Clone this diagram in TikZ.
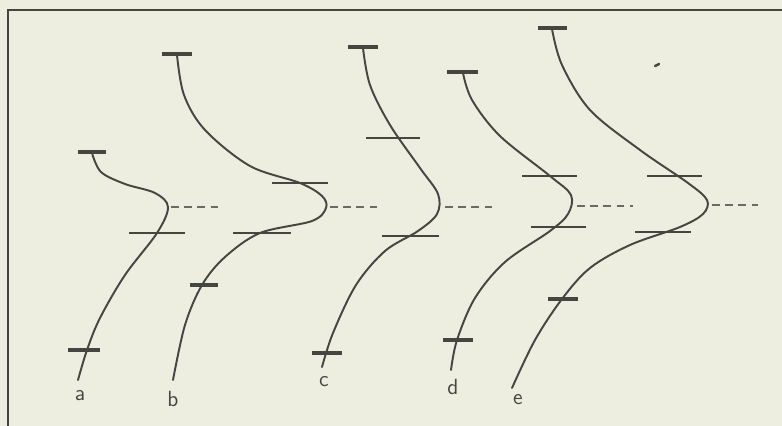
\documentclass[tikz,border=0pt]{standalone}
\usepackage{tikz}
\definecolor{paper}{HTML}{EDEEE0}
\definecolor{ink}{HTML}{45463F}

\begin{document}
\begin{tikzpicture}[x=0.02cm, y=-0.02cm, font=\sffamily\fontsize{12.5}{14}\selectfont,
    curve/.style={ink, line width=1.1pt, line cap=round},
    bold tick/.style={ink, line width=1.8pt},
    thin tick/.style={ink, line width=0.9pt},
    level/.style={ink!80, line width=0.8pt, dash pattern=on 4.5pt off 3pt},
    lab/.style={ink, inner sep=0pt}]
  \fill[paper] (0,0) rectangle (782,426);
  \useasboundingbox (0,0) rectangle (782,426);
  % Rahmen (nur links und oben sichtbar)
  \draw[ink, line width=1.1pt] (8,426) -- (8,10) -- (782,10);

  % Kurven a bis e
  \draw[curve] plot[smooth, tension=0.55] coordinates {(92,153) (101,172) (125,184)
    (155,193) (168,207) (157,233) (125,275) (100,318) (87,350) (78,380)};
  \draw[curve] plot[smooth, tension=0.55] coordinates {(177,55) (184,95) (205,130)
    (250,166) (300,183) (322,196) (326,208) (312,221) (260,233) (225,257) (202,285)
    (185,325) (173,380)};
  \draw[curve] plot[smooth, tension=0.55] coordinates {(363,48) (370,85) (390,125)
    (420,168) (438,194) (437,214) (418,231) (385,251) (356,285) (333,333) (322,367)};
  \draw[curve] plot[smooth, tension=0.55] coordinates {(463,73) (472,100) (500,136)
    (550,176) (571,195) (568,214) (550,231) (505,262) (475,298) (457,340) (451,370)};
  \draw[curve] plot[smooth, tension=0.55] coordinates {(552,29) (562,65) (590,110)
    (640,150) (688,183) (707,200) (703,214) (680,227) (630,245) (590,268) (562,299)
    (535,340) (512,388)};

  % Markierungen
  \foreach \xa/\xb/\y in {78/106/152, 68/100/350, 162/192/54, 190/218/285, 348/378/47,
      312/342/353, 447/478/72, 443/473/340, 538/567/28, 548/578/299} {
    \draw[bold tick] (\xa,\y) -- (\xb,\y);
  }
  \foreach \xa/\xb/\y in {129/185/233, 272/328/183, 233/291/233, 366/420/138, 382/439/236,
      522/577/176, 531/586/227, 647/702/176, 635/691/232} {
    \draw[thin tick] (\xa,\y) -- (\xb,\y);
  }
  \foreach \xa/\xb/\y in {171/219/207, 330/377/207, 445/492/207, 577/633/206, 712/758/205} {
    \draw[level] (\xa,\y) -- (\xb,\y);
  }

  % Beschriftung
  \node[lab] (la) at (80,396) {a};
  \node[lab] (lb) at (173,399) {b};
  \node[lab] (lc) at (324,382) {c};
  \node[lab] (ld) at (453,387) {d};
  \node[lab] (le) at (518,400) {e};

  \draw[ink, line width=1.4pt, line cap=round] (655,66) -- (659,64);
\end{tikzpicture}
\end{document}
